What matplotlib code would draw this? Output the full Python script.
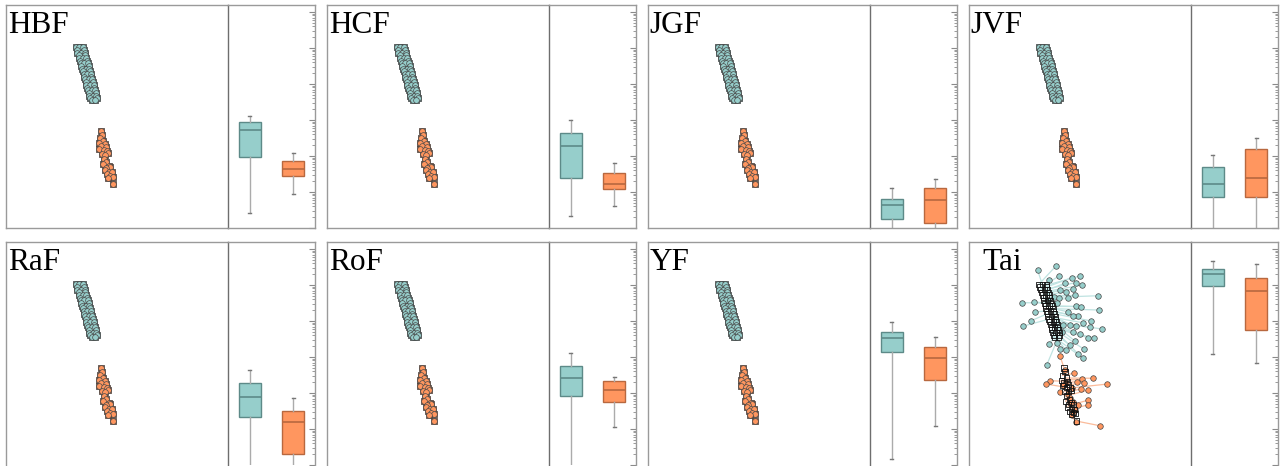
import numpy as np
import matplotlib
matplotlib.use('Agg')
import matplotlib.pyplot as plt
from matplotlib.ticker import LogLocator, NullFormatter

# panels
names = ["HBF", "HCF", "JGF", "JVF", "RaF", "RoF", "YF", "Tai"]

# box stats per panel, log10 values: whislo, q1, med, q3, whishi
teal_box = [[-5.58, -4.02, -3.28, -3.05, -2.90],
            [-5.67, -4.62, -3.72, -3.37, -3.00],
            [-6.40, -5.74, -5.37, -5.19, -4.88],
            [-6.50, -5.15, -4.79, -4.30, -3.96],
            [-6.50, -4.67, -4.11, -3.72, -3.36],
            [-6.03, -4.08, -3.58, -3.25, -2.89],
            [-5.83, -2.86, -2.47, -2.31, -2.03],
            [-2.93, -1.03, -0.70, -0.56, -0.32]]
orange_box = [[-5.06, -4.56, -4.36, -4.13, -3.91],
              [-5.40, -4.93, -4.78, -4.48, -4.20],
              [-6.50, -5.87, -5.22, -4.90, -4.65],
              [-6.50, -5.13, -4.60, -3.81, -3.51],
              [-6.50, -5.69, -4.81, -4.50, -4.14],
              [-4.94, -4.25, -3.92, -3.67, -3.56],
              [-4.92, -3.64, -3.03, -2.72, -2.44],
              [-3.18, -2.26, -1.17, -0.80, -0.43]]

# embedding positions (same base layout in every panel)
teal_x = [3.15, 3.30, 3.48, 3.20, 3.50, 3.22, 3.40, 3.55, 3.28, 3.58,
          3.30, 3.47, 3.62, 3.34, 3.64, 3.36, 3.53, 3.68, 3.40, 3.72,
          3.44, 3.60, 3.75, 3.46, 3.78, 3.50, 3.66, 3.82, 3.52, 3.84,
          3.56, 3.72, 3.88, 3.60, 3.90, 3.62, 3.79, 3.95, 3.66, 3.98,
          3.70, 3.86, 4.00, 3.72, 4.04, 3.76, 3.92, 4.06, 3.80, 4.08,
          3.86, 4.02]
teal_y = [8.10, 8.10, 8.10, 7.98, 7.98, 7.86, 7.86, 7.86, 7.74, 7.74,
          7.62, 7.62, 7.62, 7.50, 7.50, 7.38, 7.38, 7.38, 7.26, 7.26,
          7.14, 7.14, 7.14, 7.02, 7.02, 6.90, 6.90, 6.90, 6.78, 6.78,
          6.66, 6.66, 6.66, 6.54, 6.54, 6.42, 6.42, 6.42, 6.30, 6.30,
          6.18, 6.18, 6.18, 6.06, 6.06, 5.94, 5.94, 5.94, 5.82, 5.82,
          5.72, 5.72]
orange_x = [4.28, 4.32, 4.22, 4.38, 4.18, 4.44, 4.28, 4.50, 4.20, 4.40, 4.55, 4.32,
            4.48, 4.60, 4.40, 4.52, 4.36, 4.62, 4.50, 4.70, 4.45, 4.62, 4.76, 4.55,
            4.70, 4.60, 4.80, 4.84]
orange_y = [4.35, 4.18, 4.02, 3.90, 3.80, 3.75, 3.68, 3.62, 3.55, 3.48, 3.45, 3.30,
            3.28, 3.35, 3.10, 2.95, 2.85, 2.80, 2.70, 2.72, 2.60, 2.52, 2.50, 2.40,
            2.35, 2.25, 2.30, 1.97]

# Tai: displaced positions
tai_teal_x = [3.09, 3.93, 3.60, 4.05, 4.32, 4.62, 5.00, 4.80, 4.10, 4.37, 4.70, 5.08,
              3.84, 4.07, 4.47, 4.77, 5.80, 2.37, 2.93, 3.95, 4.82, 5.05, 5.86,
              2.97, 4.45, 4.70, 4.92, 5.50, 5.12, 2.78, 2.45, 4.25, 4.55, 4.82, 5.98,
              5.45, 4.18, 4.70, 5.00, 5.37, 5.64, 4.77, 3.62, 3.95, 4.55, 5.18, 4.10,
              4.37, 4.92, 5.15, 3.50, 3.55]
tai_teal_y = [8.74, 8.94, 8.30, 8.48, 8.15, 8.40, 8.48, 8.18, 7.85, 7.77, 7.89, 8.07,
              7.55, 7.50, 7.47, 7.62, 7.59, 7.28, 7.32, 7.25, 7.14, 7.10, 6.95,
              6.87, 6.87, 6.68, 6.68, 6.46, 6.38, 6.46, 6.23, 6.28, 6.28, 6.23, 6.10,
              6.17, 5.98, 5.95, 5.86, 5.71, 5.68, 5.56, 5.43, 5.46, 5.38, 5.19, 5.19,
              5.16, 4.98, 4.78, 4.48, 7.40]
tai_orange_x = [4.10, 4.32, 4.74, 3.65, 3.47, 4.37, 4.85, 5.09, 5.18, 5.60, 6.23, 4.25,
                4.63, 5.03, 5.37, 4.10, 4.47, 4.55, 4.70, 5.37, 5.35, 4.92, 4.55, 4.77,
                4.67, 4.63, 4.82, 5.90]
tai_orange_y = [4.89, 4.26, 4.11, 3.78, 3.63, 3.74, 3.74, 3.84, 3.69, 3.89, 3.63, 3.59,
                3.44, 3.41, 3.36, 3.29, 3.17, 2.99, 2.84, 2.91, 2.69, 2.69, 2.77, 2.47,
                2.39, 2.24, 1.94, 1.76]

teal = '#96cecb'
orange = '#ff965f'
teal_dark = '#5d8a88'
orange_dark = '#b8683f'

W, H = 1282, 466
fig = plt.figure(figsize=(W / 100, H / 100), dpi=100)

col_left = [6, 327, 648, 969]
row_top = [5, 242]
sw, bw, ph = 222, 87, 223


def paired(x0, y0, x1, y1):
    # pair base and displaced points by vertical order
    a = np.argsort(-np.array(y0))
    b = np.argsort(-np.array(y1))
    return (np.array(x0)[a], np.array(y0)[a], np.array(x1)[b], np.array(y1)[b])


for i in range(8):
    r, c = divmod(i, 4)
    left = col_left[c]
    top = row_top[r]
    bottom = (H - top - ph) / H
    ax = fig.add_axes([left / W, bottom, sw / W, ph / H])
    bx = fig.add_axes([(left + sw) / W, bottom, bw / W, ph / H])
    tai = names[i] == 'Tai'

    # scatter part
    for name, sp in ax.spines.items():
        sp.set_color('#9a9a9a')
        sp.set_linewidth(1.0)
    ax.spines['right'].set_visible(False)
    if r == 1:
        ax.spines['bottom'].set_visible(False)
    ax.set_xticks([])
    ax.set_yticks([])
    ax.set_xlim(0, 10)
    ax.set_ylim(0, 10)

    groups = [(teal_x, teal_y, teal, '#bfe3e1'), (orange_x, orange_y, orange, '#fbbb9a')]
    if tai:
        moved = [(tai_teal_x, tai_teal_y), (tai_orange_x, tai_orange_y)]
    else:
        moved = [(teal_x, teal_y), (orange_x, orange_y)]
    for (gx, gy, col, lcol), (mx, my) in zip(groups, moved):
        x0, y0, x1, y1 = paired(gx, gy, mx, my)
        if tai:
            for k in range(len(x0)):
                ax.plot([x0[k], x1[k]], [y0[k], y1[k]], color=lcol, lw=0.9, zorder=1)
            ax.scatter(x1, y1, s=16, color=col, edgecolor='#444444', linewidth=0.5, zorder=2)
            ax.scatter(x0, y0, s=14, marker='s', facecolor='none', edgecolor='#111111',
                       linewidth=0.6, zorder=3)
        else:
            ax.scatter(x0, y0, s=14, marker='s', facecolor=col, edgecolor='#333333',
                       linewidth=0.5, zorder=2)
            ax.scatter(x1, y1, s=17, color=col, edgecolor='#4a4a4a', linewidth=0.5, zorder=3)

    xoff = 0.058 if tai else 0.008
    ax.text(xoff, 1 - 28 / ph, names[i], transform=ax.transAxes, va='baseline', ha='left',
            fontsize=22.5, family='Liberation Serif', color='black')

    # box part
    stats = []
    for vals in (teal_box[i], orange_box[i]):
        v = [10 ** t for t in vals]
        stats.append(dict(whislo=v[0], q1=v[1], med=v[2], q3=v[3], whishi=v[4], fliers=[]))
    parts = bx.bxp(stats, positions=[1, 2], widths=0.5, patch_artist=True, showfliers=False,
                   capwidths=0.08)
    for k, (fc, ec) in enumerate([(teal, teal_dark), (orange, orange_dark)]):
        parts['boxes'][k].set_facecolor(fc)
        parts['boxes'][k].set_edgecolor(ec)
        parts['boxes'][k].set_linewidth(1.0)
        parts['medians'][k].set_color(ec)
        parts['medians'][k].set_linewidth(1.2)
    for w in parts['whiskers']:
        w.set_color('#ababab')
        w.set_linewidth(1.0)
    for cap in parts['caps']:
        cap.set_color('#777777')
        cap.set_linewidth(1.0)

    bx.set_yscale('log')
    bx.set_ylim(1e-6, 10 ** 0.194)
    bx.set_xlim(0.5, 2.5)
    bx.set_xticks([])
    bx.yaxis.tick_right()
    bx.yaxis.set_major_locator(LogLocator(base=10, numticks=20))
    bx.yaxis.set_minor_locator(LogLocator(base=10, subs=np.arange(2, 10), numticks=20))
    bx.yaxis.set_major_formatter(NullFormatter())
    bx.yaxis.set_minor_formatter(NullFormatter())
    bx.tick_params(axis='y', which='major', direction='in', length=4, width=0.8, color='#8a8a8a')
    bx.tick_params(axis='y', which='minor', direction='in', length=2.2, width=0.7, color='#9a9a9a')
    for name, sp in bx.spines.items():
        sp.set_color('#9a9a9a')
        sp.set_linewidth(1.0)
    bx.spines['left'].set_color('#6e6e6e')
    if r == 1:
        bx.spines['bottom'].set_visible(False)

fig.savefig('out.png', dpi=100)
